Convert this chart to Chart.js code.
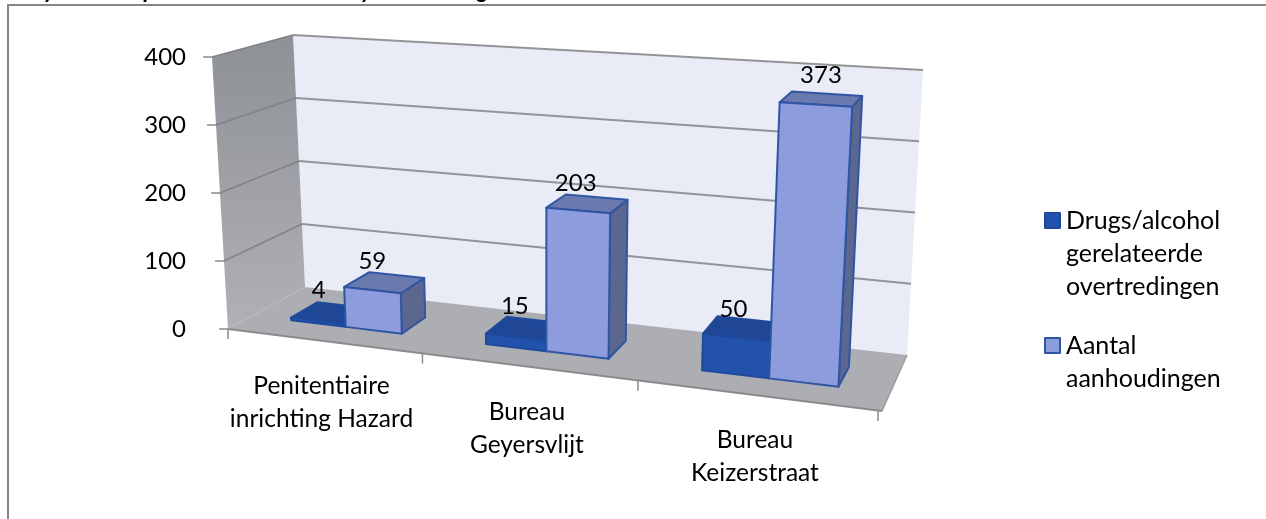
<!DOCTYPE html>
<html><head><meta charset="utf-8">
<style>html,body{margin:0;padding:0;background:#fff}#w{width:1266px;height:519px;position:relative}</style>
<script src="https://cdn.jsdelivr.net/npm/chart.js@4/dist/chart.umd.min.js"></script>
</head><body><div id="w"><canvas id="c" width="1266" height="519"></canvas></div>
<script>
const categories = [['Penitentiaire','inrichting Hazard'],['Bureau','Geyersvlijt'],['Bureau','Keizerstraat']];
const drugsLabel = ['Drugs/alcohol','gerelateerde','overtredingen'];
const arrestLabel = ['Aantal','aanhoudingen'];
const drugsValues = [4,15,50];
const arrestValues = [59,203,373];
const valueTicks = [0,100,200,300,400];

const FONT = 'Lato';
// the eight corners of the 3D plot box on the page (front/back, left/right, bottom/top)
const box = {
  flb:[228,329], flt:[212,57], frb:[882,411], frt:[900,99],
  blb:[305,287], blt:[293,35], brb:[907,355], brt:[923,70]
};
const WARP = 1.17, W0 = 0.32, W1 = 0.68;
const lerp=(a,b,t)=>a+(b-a)*t;
const mix=(p,q,t)=>[lerp(p[0],q[0],t),lerp(p[1],q[1],t)];
function proj(u,v,w){
  const s=u/(u+WARP*(1-u));
  const fb=mix(box.flb,box.frb,s), ft=mix(box.flt,box.frt,s);
  const bb=mix(box.blb,box.brb,s), bt=mix(box.blt,box.brt,s);
  return mix(mix(fb,ft,v),mix(bb,bt,v),w);
}
function poly(ctx,pts,fill,stroke,lw){
  ctx.beginPath();pts.forEach((p,i)=>i?ctx.lineTo(p[0],p[1]):ctx.moveTo(p[0],p[1]));ctx.closePath();
  if(fill){ctx.fillStyle=fill;ctx.fill();}
  if(stroke){ctx.strokeStyle=stroke;ctx.lineWidth=lw||1.5;ctx.lineJoin='round';ctx.stroke();}
}
function seg(ctx,a,b,c,lw){ctx.beginPath();ctx.moveTo(a[0],a[1]);ctx.lineTo(b[0],b[1]);ctx.strokeStyle=c;ctx.lineWidth=lw;ctx.stroke();}
const skins=[
 {front:'#2352ad',top:'#1f4795',side:'#1c3f85',edge:'#1f4a9c'},
 {front:'#8c9cdc',top:'#6b7aae',side:'#5b678f',edge:'#2f55a3'}
];
const labelNudgeX=[[1,8,16],[3,10,29]];
const labelNudgeY=[[0,1,5],[1,1,-4]];
const plot3d={
  id:'plot3d',
  beforeDraw(chart){
    const ctx=chart.ctx,ys=chart.scales.y;
    const vOf=t=>(ys.bottom-ys.getPixelForValue(t))/(ys.bottom-ys.top);
    ctx.save();
    ctx.strokeStyle='#868686';ctx.lineWidth=2;
    ctx.beginPath();ctx.moveTo(8,520);ctx.lineTo(8,5);ctx.lineTo(1267,5);ctx.stroke();
    // descenders of the heading that the crop cuts off
    ctx.save();ctx.beginPath();ctx.rect(0,0,1266,4);ctx.clip();
    ctx.fillStyle='#000';ctx.font='italic bold 24px '+FONT;ctx.textBaseline='alphabetic';ctx.textAlign='center';
    chart.options.plugins.plot3d.headingBits.forEach(b=>ctx.fillText(b[0],b[1],-2));
    ctx.restore();
    const lg=ctx.createLinearGradient(0,35,0,330);lg.addColorStop(0,'#8d9095');lg.addColorStop(1,'#b0b1b6');
    poly(ctx,[box.blt,box.brt,box.brb,box.blb],'#e9ebf7');
    poly(ctx,[box.flt,box.blt,box.blb,box.flb],lg);
    poly(ctx,[box.flb,box.blb,box.brb,box.frb],'#adaeb3');
    valueTicks.forEach(t=>{
      const v=vOf(t);
      if(t>0){
        seg(ctx,proj(0,v,1),proj(1,v,1),'#939497',2);
        seg(ctx,proj(0,v,0),proj(0,v,1),'#808388',1.5);
      }
      const a=proj(0,v,0);
      seg(ctx,a,[a[0]-9,a[1]],'#8a8a8a',1.5);
    });
    seg(ctx,box.flb,box.frb,'#8b8b8b',2);
    seg(ctx,box.frb,box.brb,'#9a9a9a',1.5);
    categories.concat([0]).forEach((_,i)=>{
      const u=i/categories.length,a=proj(u,0,0);
      seg(ctx,[a[0]-4*u,a[1]],[a[0]-4*u,a[1]+10],'#8a8a8a',1.5);
    });
    ctx.restore();
  },
  beforeDatasetsDraw(chart){
    const ctx=chart.ctx,xs=chart.scales.x,ys=chart.scales.y;
    const W=xs.right-xs.left,H=ys.bottom-ys.top;
    ctx.save();
    const tops=[];
    [0,1].forEach(ds=>{
      chart.getDatasetMeta(ds).data.forEach((el,i)=>{
        const u0=(el.x-el.width/2-xs.left)/W,u1=(el.x+el.width/2-xs.left)/W;
        const v=(el.base-el.y)/H, sk=skins[ds];
        const P=proj;
        poly(ctx,[P(u1,0,W0),P(u1,0,W1),P(u1,v,W1),P(u1,v,W0)],sk.side,sk.edge,2);
        poly(ctx,[P(u0,v,W0),P(u1,v,W0),P(u1,v,W1),P(u0,v,W1)],sk.top,sk.edge,2);
        poly(ctx,[P(u0,0,W0),P(u1,0,W0),P(u1,v,W0),P(u0,v,W0)],sk.front,sk.edge,2);
        const a=P(u0,v,W1);
        tops.push([a[0]+labelNudgeX[ds][i],a[1]-12+labelNudgeY[ds][i],chart.data.datasets[ds].data[i]]);
      });
    });
    ctx.fillStyle='#000';ctx.font='24px '+FONT;ctx.textAlign='center';ctx.textBaseline='middle';
    tops.forEach(t=>ctx.fillText(String(t[2]),t[0],t[1]));
    ctx.font='24.5px '+FONT;
    xs.getLabels().forEach((lines,i)=>{
      const u=(xs.getPixelForTick(i)-xs.left)/W,a=proj(u,0,0);
      lines.forEach((s,k)=>ctx.fillText(s,a[0]-1.5*u-1.75,a[1]+45+k*33));
    });
    // legend, built from the dataset names and colours
    ctx.font='25px '+FONT;ctx.textAlign='left';
    let y=221;
    chart.data.datasets.forEach(d=>{
      ctx.fillStyle=d.backgroundColor;ctx.strokeStyle=d.borderColor;ctx.lineWidth=2;
      ctx.fillRect(1045,y-8,15,15);ctx.strokeRect(1045,y-8,15,15);
      ctx.fillStyle='#000';
      d.label.forEach((s,k)=>ctx.fillText(s,1066,y+k*33));
      y+=125;
    });
    ctx.restore();
    return false;
  }
};
new Chart(document.getElementById('c'),{
  type:'bar',
  data:{labels:categories,datasets:[
    {label:drugsLabel,data:drugsValues,backgroundColor:skins[0].front,borderColor:skins[0].edge,borderWidth:2,categoryPercentage:.58,barPercentage:1},
    {label:arrestLabel,data:arrestValues,backgroundColor:skins[1].front,borderColor:skins[1].edge,borderWidth:2,categoryPercentage:.58,barPercentage:1}
  ]},
  plugins:[plot3d],
  options:{
    responsive:false,animation:false,
    layout:{padding:{left:0,right:381,top:57,bottom:190}},
    scales:{
      x:{grid:{display:false},border:{display:false},ticks:{display:false},afterFit(s){s.height=0;}},
      y:{min:0,max:400,grid:{display:false},border:{display:false},
         afterFit(s){s.width=228;},
         afterBuildTicks(s){s.ticks=valueTicks.map(v=>({value:v}));},
         ticks:{color:'#000',padding:34,font:{family:FONT,size:24}}}
    },
    plugins:{
      plot3d:{headingBits:[['y',50],['p',150],['y',367],['g',483]]},
      tooltip:{enabled:false},
      legend:{display:false}
    }
  }
});
</script></body></html>
